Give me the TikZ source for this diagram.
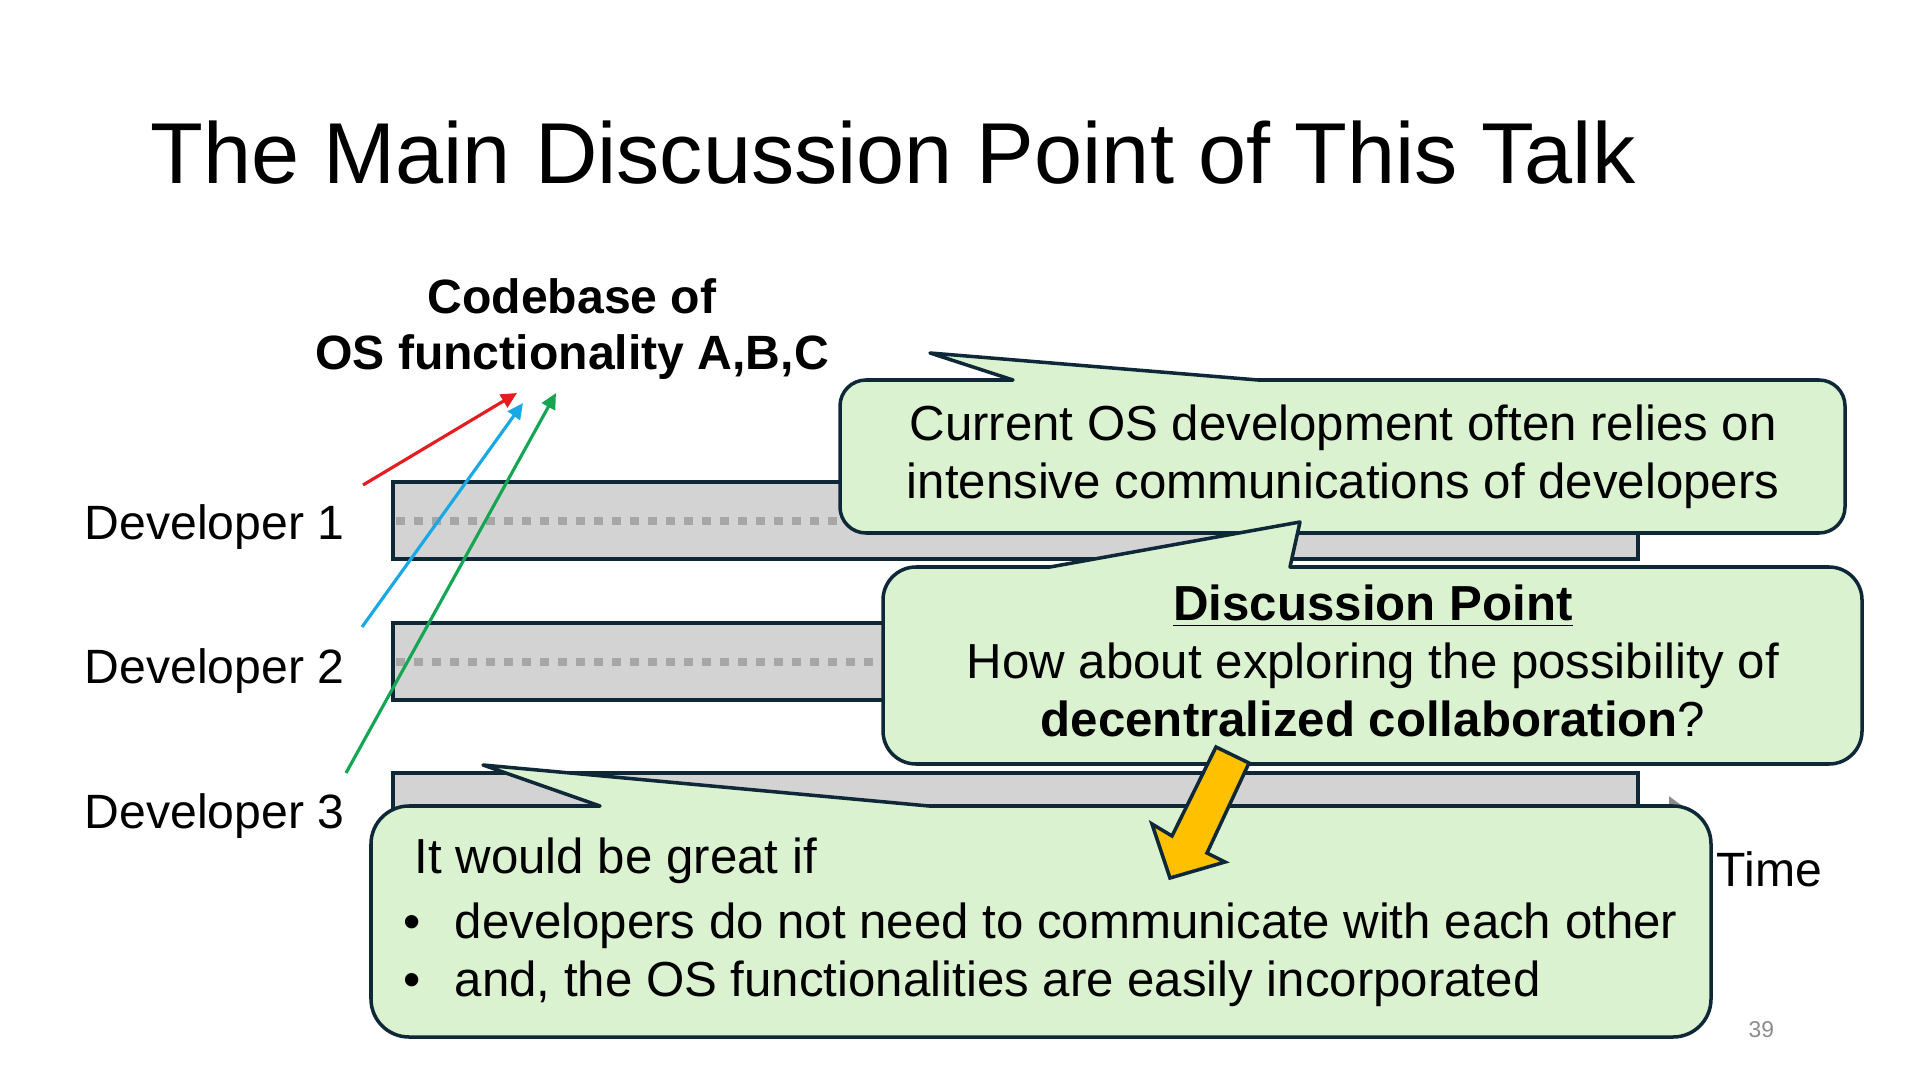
\documentclass[tikz,border=0pt]{standalone}
\usepackage{fontspec}
\setmainfont{Liberation Sans}
\usetikzlibrary{arrows.meta}

\definecolor{navy}{RGB}{14,40,56}
\definecolor{callfill}{RGB}{218,242,208}
\definecolor{barfill}{RGB}{211,211,211}
\definecolor{dotgray}{RGB}{166,166,166}
\definecolor{devred}{RGB}{228,30,32}
\definecolor{devblue}{RGB}{26,168,228}
\definecolor{devgreen}{RGB}{20,166,82}
\definecolor{orangearr}{RGB}{255,192,0}

\begin{document}
\begin{tikzpicture}[
  font=\fontsize{13.7}{16.5}\selectfont,
  bar/.style={
    draw=navy,
    fill=barfill,
    line width=0.9pt,
    minimum width=12.45cm,
    minimum height=0.77cm,
    inner sep=0pt,
    outer sep=0pt
  },
  dots/.style={
    dotgray,
    line width=0.08cm,
    dash pattern=on 0.09cm off 0.09cm
  },
  lbl/.style={anchor=base west, inner sep=0pt},
  callout/.style={
    draw=navy,
    fill=callfill,
    line width=1pt,
    line join=round
  },
  calltext/.style={
    align=center,
    anchor=base,
    inner sep=0pt,
    font=\fontsize{14}{16.5}\selectfont
  },
  devarr/.style={
    -{Triangle[length=4.5pt,width=4.2pt]},
    line width=0.9pt
  },
  timearr/.style={
    -{Triangle[length=0.22cm,width=0.30cm]},
    black!45,
    line width=0.08cm
  }
]

\useasboundingbox (0,0) rectangle (19.2,-10.8);

\def\barx{10.155}

% Title
\node[lbl, font=\fontsize{24.6}{29}\selectfont] (title) at (1.50,-1.84)
  {The Main Discussion Point of This Talk};

% Codebase (base = last line)
\node[anchor=base, align=center, inner sep=0pt, font=\fontsize{13.7}{16.2}\selectfont\bfseries]
  (codebase) at (5.72,-3.70)
  {Codebase of\\OS functionality A,B,C};

% Developers and their timelines
\node[lbl] (dev1) at (0.84,-5.39) {Developer 1};
\node[lbl] (dev2) at (0.84,-6.83) {Developer 2};
\node[lbl] (dev3) at (0.84,-8.28) {Developer 3};

\coordinate (tend) at (16.91,-8.12);

\node[bar] (bar1) at (\barx,-5.205) {};
\node[bar] (bar2) at (\barx,-6.615) {};
\draw[timearr] (\barx,-8.12) -- (tend);
\node[bar] (bar3) at (\barx,-8.115) {};

\foreach \b in {bar1,bar2,bar3}{
  \draw[dots] ([xshift=0.03cm]\b.west) -- ([xshift=-0.03cm]\b.east);
}

\node[lbl] (time) at (17.16,-8.86) {Time};

% Commits of each developer
\coordinate (src1) at (3.63,-4.85);
\coordinate (src2) at (3.62,-6.27);
\coordinate (src3) at (3.46,-7.73);
\coordinate (tip1) at (5.17,-3.93);
\coordinate (tip2) at (5.23,-4.03);
\coordinate (tip3) at (5.56,-3.93);

\draw[devarr, devred] (src1) -- (tip1);
\draw[devarr, devblue] (src2) -- (tip2);
\draw[devarr, devgreen] (src3) -- (tip3);

% Current practice
\draw[callout] (12.58,-3.80) [rounded corners=0.26cm]
  -- (18.45,-3.80) -- (18.45,-5.33) -- (8.40,-5.33) -- (8.40,-3.80)
  [sharp corners] -- (10.13,-3.80) -- (9.30,-3.53) -- cycle;

\node[calltext] (current) at (13.43,-4.98)
  {Current OS development often relies on\\
   intensive communications of developers};

% Discussion point
\draw[callout] (12.90,-5.67) [rounded corners=0.33cm]
  -- (18.62,-5.67) -- (18.62,-7.64) -- (8.83,-7.64) -- (8.83,-5.67)
  [sharp corners] -- (10.50,-5.67) -- (13.00,-5.22) -- cycle;

\node[calltext] (discuss) at (13.73,-7.36)
  {\textbf{\underline{Discussion Point}}\\
   How about exploring the possibility of\\
   \textbf{decentralized collaboration}?};

% Wish list
\draw[callout] (9.29,-8.06) [rounded corners=0.38cm]
  -- (17.11,-8.06) -- (17.11,-10.37) -- (3.71,-10.37) -- (3.71,-8.06)
  [sharp corners] -- (6.00,-8.06) -- (4.83,-7.65) -- cycle;

\node[lbl, align=left, font=\fontsize{14}{16.5}\selectfont] (wish) at (4.03,-9.965)
  {\hspace{0.11cm}It would be great if\\[0.07cm]
   \makebox[0.51cm][l]{•}developers do not need to communicate with each other\\
   \makebox[0.51cm][l]{•}and, the OS functionalities are easily incorporated};

% Block arrow
\draw[navy, fill=orangearr, line width=1pt]
  (12.16,-7.47) -- (12.49,-7.63) -- (12.07,-8.53) -- (12.25,-8.62)
  -- (11.70,-8.78) -- (11.52,-8.24) -- (11.72,-8.36) -- cycle;

\node[lbl, text=black!45, font=\fontsize{6.5}{8}\selectfont] (page) at (17.48,-10.37) {39};

\end{tikzpicture}
\end{document}
